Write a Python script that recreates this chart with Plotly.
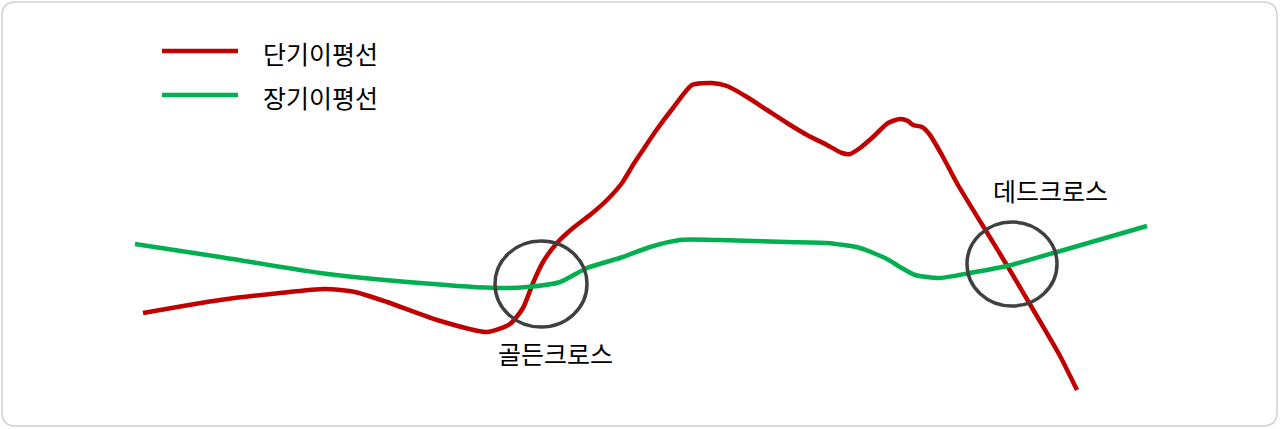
import plotly.graph_objects as go

# values (pixel space of the 1280x429 image, y grows downwards)
short_x = [143, 220, 280, 325, 355, 387, 437, 487, 510, 523, 533, 543, 557, 573, 590, 607,
           622, 633, 643, 655, 673, 692, 712, 727, 747, 767, 787, 807, 827, 842, 850, 860,
           873, 888, 900, 908, 913, 922, 930, 943, 958, 983, 1008, 1038, 1060, 1077]
short_y = [313, 300, 293, 289, 292, 302, 320, 332, 324, 308, 283, 262, 243, 228, 215, 200,
           183, 165, 150, 132, 108, 85, 83, 86, 97, 110, 123, 135, 145, 153, 154, 148,
           137, 123, 119, 121, 125, 127, 135, 157, 185, 226, 267, 318, 356, 390]

long_x = [135, 220, 320, 420, 497, 527, 560, 587, 623, 650, 680, 720, 787, 827, 860,
          887, 900, 915, 940, 970, 1007, 1057, 1147]
long_y = [244, 257, 273, 283, 288, 287, 282, 268, 257, 247, 240, 240, 242, 243, 248,
          259, 267, 275, 278, 273, 266, 252, 226]

series_names = ["단기이평선", "장기이평선"]
series_colors = ["#C00000", "#00B050"]

cross_labels = ["골든크로스", "데드크로스"]
cross_centers = [(541, 284), (1012, 264)]
cross_radius = [(46, 43), (45, 42)]
cross_label_pos = [(555, 353), (1050, 190)]

W, H = 1280, 429
FONT = "Noto Sans CJK KR"

fig = go.Figure()
fig.add_trace(go.Scatter(x=short_x, y=short_y, mode="lines", name=series_names[0],
                         line=dict(color=series_colors[0], width=4.5, shape="spline", smoothing=0.6)))
fig.add_trace(go.Scatter(x=long_x, y=long_y, mode="lines", name=series_names[1],
                         line=dict(color=series_colors[1], width=4.5, shape="spline", smoothing=0.6)))

# crossing circles + labels
for (cx, cy), (rx, ry), lab, (lx, ly) in zip(cross_centers, cross_radius, cross_labels, cross_label_pos):
    fig.add_shape(type="circle", x0=cx - rx, x1=cx + rx, y0=cy - ry, y1=cy + ry,
                  line=dict(color="#404040", width=3.5))
    fig.add_annotation(x=lx, y=ly, text=lab, showarrow=False,
                       font=dict(family=FONT, size=25, color="#000000"))

# hand-made legend (long line samples like the original)
for i, (nm, col) in enumerate(zip(series_names, series_colors)):
    yy = 51 + i * 44
    fig.add_shape(type="line", x0=162, x1=238, y0=yy, y1=yy, line=dict(color=col, width=4.5))
    fig.add_annotation(x=261, y=yy + 2, text=nm, showarrow=False, xanchor="left",
                       font=dict(family=FONT, size=25, color="#000000"))

# rounded frame
r = 14
x0, y0, x1, y1 = 2, 2, W - 3, H - 3
path = (f"M{x0+r},{y0} L{x1-r},{y0} Q{x1},{y0} {x1},{y0+r} L{x1},{y1-r} Q{x1},{y1} {x1-r},{y1} "
        f"L{x0+r},{y1} Q{x0},{y1} {x0},{y1-r} L{x0},{y0+r} Q{x0},{y0} {x0+r},{y0} Z")
fig.add_shape(type="path", path=path, line=dict(color="#D0D0D0", width=1.5), layer="below")

fig.update_layout(
    width=W, height=H,
    margin=dict(l=0, r=0, t=0, b=0),
    paper_bgcolor="white", plot_bgcolor="white",
    showlegend=False,
    xaxis=dict(range=[0, W], visible=False, fixedrange=True),
    yaxis=dict(range=[H, 0], visible=False, fixedrange=True),
)

fig.write_html("out.html", config={"displayModeBar": False},
               post_script="document.body.style.margin='0';document.body.style.overflow='hidden';")
